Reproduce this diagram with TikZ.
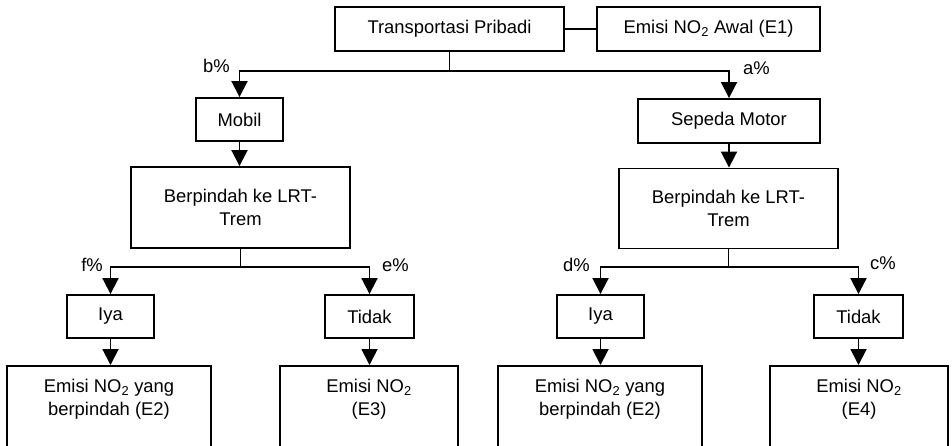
\documentclass[tikz,border=0pt]{standalone}
\usepackage{fontspec}
\setmainfont{Liberation Sans}
\usetikzlibrary{arrows.meta}
\begin{document}
\begin{tikzpicture}[x=1pt,y=-1pt,
  box/.style={draw,line width=1.9pt,inner sep=0pt,align=center,font=\fontsize{18.4}{23}\selectfont},
  arr/.style={line width=1.9pt,-{Triangle[length=16pt,width=16pt]}},
  ln/.style={line width=1.9pt},
  lbl/.style={inner sep=0pt,font=\fontsize{18.4}{23}\selectfont}]
\useasboundingbox (0,0) rectangle (952,445);
\clip (0,0) rectangle (952,445);
% top row
\node[box,minimum width=229pt,minimum height=44pt] (tp) at (449.5,29) {Transportasi Pribadi};
\node[box,minimum width=223pt,minimum height=44pt] (e1) at (708.5,29) {Emisi NO\textsubscript{2} Awal (E1)};
\draw[ln] (tp.east) -- (e1.west);
% second row
\node[box,minimum width=87pt,minimum height=43pt] (mobil) at (239.5,119.5) {Mobil};
\node[box,minimum width=182pt,minimum height=44pt] (motor) at (729,121) {Sepeda Motor};
\coordinate (j0) at (449.5,71);
\draw[ln] (tp.south) -- (j0);
\draw[arr] (j0) -| (mobil.north);
\draw[arr] (j0) -| (motor.north);
\node[lbl,anchor=east] (lb) at (230,66) {b\%};
\node[lbl,anchor=west] (la) at (743,68) {a\%};
% third row
\node[box,minimum width=219pt,minimum height=81pt] (berL) at (240.5,207.5) {Berpindah ke LRT-\\Trem};
\node[box,minimum width=219pt,minimum height=80pt] (berR) at (728.5,208.5) {Berpindah ke LRT-\\Trem};
\draw[arr] (mobil.south) -- (mobil.south |- berL.north);
\draw[arr] (motor.south) -- (motor.south |- berR.north);
% fourth row
\node[box,minimum width=87pt,minimum height=43pt] (iyaL) at (110.5,316.5) {Iya};
\node[box,minimum width=89pt,minimum height=43pt] (tidakL) at (369.5,316.5) {Tidak};
\node[box,minimum width=87pt,minimum height=43pt] (iyaR) at (600.5,316.5) {Iya};
\node[box,minimum width=89pt,minimum height=43pt] (tidakR) at (858.5,316.5) {Tidak};
\coordinate (j1) at (240.5,267);
\coordinate (j2) at (728.5,267);
\draw[ln] (berL.south) -- (j1);
\draw[arr] (j1) -| (iyaL.north);
\draw[arr] (j1) -| (tidakL.north);
\draw[ln] (berR.south) -- (j2);
\draw[arr] (j2) -| (iyaR.north);
\draw[arr] (j2) -| (tidakR.north);
\node[lbl,anchor=east] (lf) at (103,265) {f\%};
\node[lbl,anchor=west] (le) at (382,265) {e\%};
\node[lbl,anchor=east] (ld) at (590,265) {d\%};
\node[lbl,anchor=west] (lc) at (870,263) {c\%};
% bottom row (cut off by the picture edge)
\node[box,anchor=north,minimum width=204pt,minimum height=100pt] (bL1) at (109,365) {};
\node[box,anchor=north,minimum width=178pt,minimum height=100pt] (bL2) at (369,365) {};
\node[box,anchor=north,minimum width=204pt,minimum height=100pt] (bR1) at (600,365) {};
\node[box,anchor=north,minimum width=178pt,minimum height=100pt] (bR2) at (859,365) {};
\draw[arr] (iyaL.south) -- (iyaL.south |- bL1.north);
\draw[arr] (tidakL.south) -- (tidakL.south |- bL2.north);
\draw[arr] (iyaR.south) -- (iyaR.south |- bR1.north);
\draw[arr] (tidakR.south) -- (tidakR.south |- bR2.north);
\node[lbl,align=center,anchor=north] (tL1) at (109,379) {Emisi NO\textsubscript{2} yang\\berpindah (E2)};
\node[lbl,align=center,anchor=north] (tL2) at (369,379) {Emisi NO\textsubscript{2}\\(E3)};
\node[lbl,align=center,anchor=north] (tR1) at (600,379) {Emisi NO\textsubscript{2} yang\\berpindah (E2)};
\node[lbl,align=center,anchor=north] (tR2) at (859,379) {Emisi NO\textsubscript{2}\\(E4)};
\end{tikzpicture}
\end{document}
